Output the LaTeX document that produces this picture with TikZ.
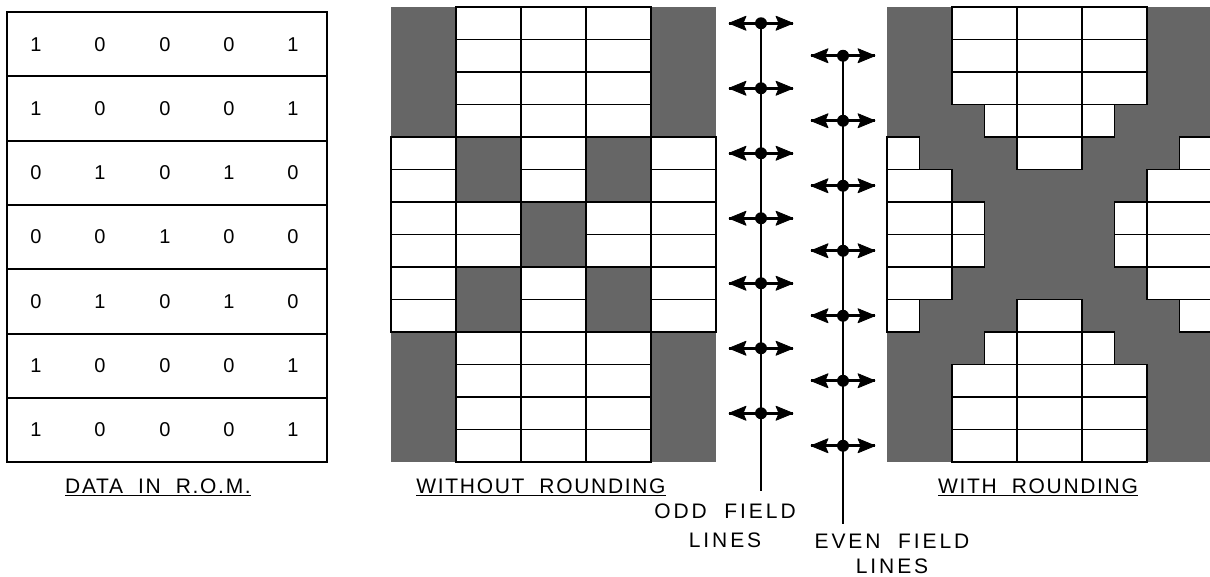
\documentclass[tikz,border=0pt]{standalone}
\usepackage{fontspec}
\setmainfont{Liberation Sans}[LetterSpace=8]
\newfontfamily\widelbl{Liberation Sans}[LetterSpace=14]
\definecolor{darkcell}{RGB}{102,102,102}
\begin{document}
\begin{tikzpicture}[x=1pt,y=-1pt,
  tableline/.style={line width=2pt},
  whitecell/.style={fill=white,draw=black,line width=1.9pt},
  darkpanel/.style={fill=darkcell,draw=none},
  digit/.style={font=\fontsize{20}{20}\selectfont, inner sep=0pt},
  lbl/.style={font=\fontsize{21}{28}\selectfont, inner sep=0pt, align=center},
  ulbl/.style={lbl, inner sep=0pt},
  fieldarrow/.style={line width=3pt},
  arrowhead/.style={fill=black, draw=black, line width=0.8pt, line join=round},
  fielddot/.style={circle, fill=black, minimum size=12pt, inner sep=0pt},
  fieldline/.style={line width=2pt},
  ]
\useasboundingbox[fill=white] (0,0) rectangle (1210,576);

% ---------- Data in ROM table ----------
\draw[tableline] (7,12) rectangle (327,462);
\foreach \k in {1,...,6} \draw[tableline] (7,{12+64.3*\k}) -- (327,{12+64.3*\k});
\foreach \a/\b/\c/\d/\e [count=\i] in {1/0/0/0/1,1/0/0/0/1,0/1/0/1/0,0/0/1/0/0,0/1/0/1/0,1/0/0/0/1,1/0/0/0/1}{
  \pgfmathsetmacro{\yy}{12+64.3*(\i-0.5)}
  \node[digit] (d\i-1) at (36,\yy) {\a};
  \node[digit] (d\i-2) at (100,\yy) {\b};
  \node[digit] (d\i-3) at (165,\yy) {\c};
  \node[digit] (d\i-4) at (229,\yy) {\d};
  \node[digit] (d\i-5) at (293,\yy) {\e};
}
\node[ulbl] (romlbl) at (158,487) {\underline{DATA\ \ IN\ \ R.O.M.}};

% ---------- Without rounding ----------
\fill[darkpanel] (391,7) rectangle (716,462);
\foreach \r/\c in {1/2,1/3,1/4,2/2,2/3,2/4,3/1,3/3,3/5,4/1,4/2,4/4,4/5,5/1,5/3,5/5,6/2,6/3,6/4,7/2,7/3,7/4}{
  \foreach \h in {0,1}
    \draw[whitecell] ({391+65*(\c-1)},{7+65*(\r-1)+32.5*\h}) rectangle +(65,32.5);
}
\node[ulbl] (wolbl) at (541,487) {\underline{WITHOUT\ \ ROUNDING}};

% ---------- With rounding ----------
\fill[darkpanel] (887,7) rectangle (1212,462);
% pieces: halfrow / start halfcol / end halfcol (0-based)
\foreach \hr/\s/\e in {
  1/2/4,1/4/6,1/6/8, 2/2/4,2/4/6,2/6/8, 3/2/4,3/4/6,3/6/8,
  4/3/4,4/4/6,4/6/7,
  5/0/1,5/4/6,5/9/10,
  6/0/2,6/8/10,
  7/0/2,7/2/3,7/7/8,7/8/10,
  8/0/2,8/2/3,8/7/8,8/8/10,
  9/0/2,9/8/10,
  10/0/1,10/4/6,10/9/10,
  11/3/4,11/4/6,11/6/7,
  12/2/4,12/4/6,12/6/8, 13/2/4,13/4/6,13/6/8, 14/2/4,14/4/6,14/6/8}{
  \draw[whitecell] ({887+32.5*\s},{7+32.5*(\hr-1)}) rectangle ({887+32.5*\e},{7+32.5*\hr});
}
\node[ulbl] (wrlbl) at (1038,487) {\underline{WITH\ \ ROUNDING}};

% ---------- Field lines ----------
\foreach \k in {0,...,6}{
  \pgfmathsetmacro{\yo}{23.25+65*\k}
  \coordinate (oL\k) at (729,\yo);
  \coordinate (oR\k) at (793,\yo);
  \draw[fieldarrow] (oL\k) -- (oR\k);
  \filldraw[arrowhead] (oL\k) -- ++(17,-7) -- ++(-3,7) -- ++(3,7) -- cycle;
  \filldraw[arrowhead] (oR\k) -- ++(-17,-7) -- ++(3,7) -- ++(-3,7) -- cycle;
  \node[fielddot] (o\k) at (761,\yo) {};
  \pgfmathsetmacro{\ye}{55.75+65*\k}
  \coordinate (eL\k) at (811,\ye);
  \coordinate (eR\k) at (875,\ye);
  \draw[fieldarrow] (eL\k) -- (eR\k);
  \filldraw[arrowhead] (eL\k) -- ++(17,-7) -- ++(-3,7) -- ++(3,7) -- cycle;
  \filldraw[arrowhead] (eR\k) -- ++(-17,-7) -- ++(3,7) -- ++(-3,7) -- cycle;
  \node[fielddot] (e\k) at (843,\ye) {};
}
\coordinate (oend) at (761,491);
\coordinate (eend) at (843,524);
\draw[fieldline] (o0.center) -- (oend);
\draw[fieldline] (e0.center) -- (eend);

\node[lbl, font=\widelbl\fontsize{21}{28.5}\selectfont] (oddlbl) at (725,526) {ODD\ \ FIELD\\LINES};
\node[lbl, font=\widelbl\fontsize{21}{25}\selectfont] (evenlbl) at (892,554) {EVEN\ \ FIELD\\LINES};
\end{tikzpicture}
\end{document}
